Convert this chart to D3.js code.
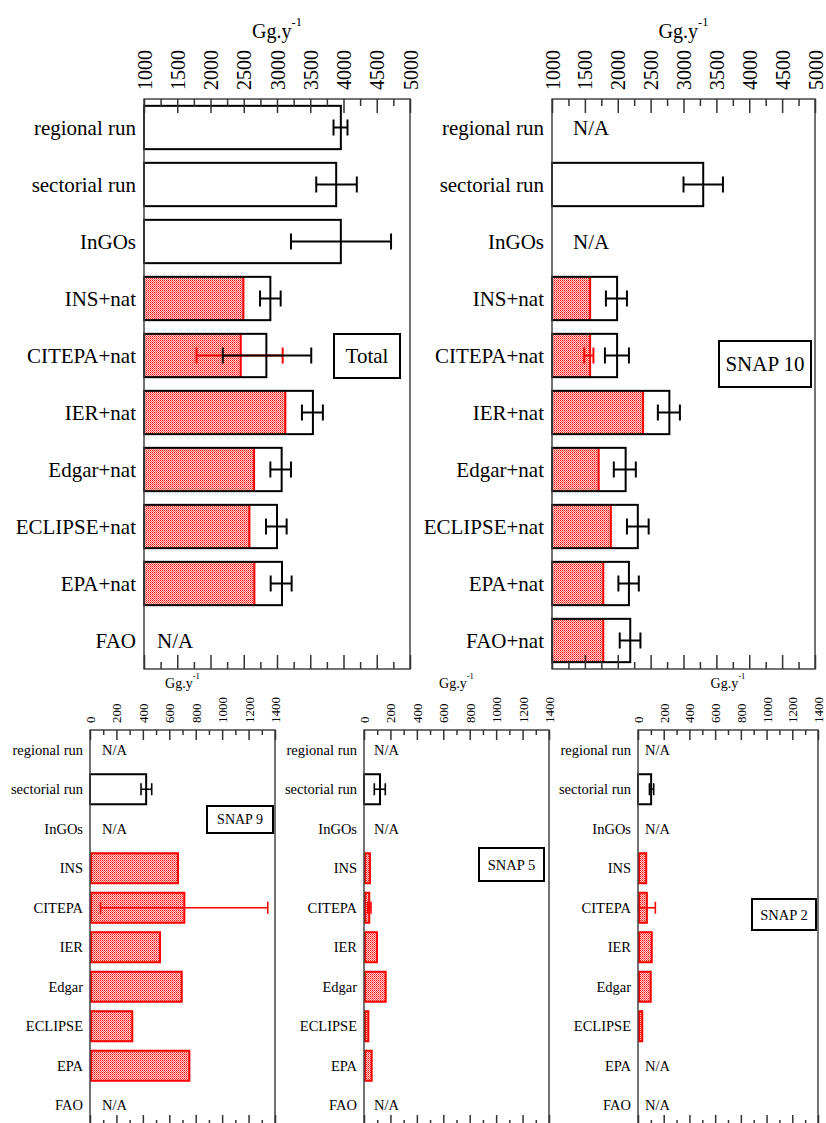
<!DOCTYPE html>
<html><head><meta charset="utf-8">
<script src="https://cdn.jsdelivr.net/npm/d3@7"></script>
<style>
body{margin:0;background:#fff}
svg{display:block}
text{font-family:"Liberation Serif","Times New Roman",serif;fill:#000}
</style>
</head><body>
<svg id="c" width="826" height="1123"></svg>
<script>
// ---------------- DATA ----------------
const catsTotal  = ["regional run","sectorial run","InGOs","INS+nat","CITEPA+nat","IER+nat","Edgar+nat","ECLIPSE+nat","EPA+nat","FAO"];
const catsSnap10 = ["regional run","sectorial run","InGOs","INS+nat","CITEPA+nat","IER+nat","Edgar+nat","ECLIPSE+nat","EPA+nat","FAO+nat"];
const catsSnap   = ["regional run","sectorial run","InGOs","INS","CITEPA","IER","Edgar","ECLIPSE","EPA","FAO"];

const ticksTop = [1000,1500,2000,2500,3000,3500,4000,4500,5000];
const ticksBottom = [0,200,400,600,800,1000,1200,1400];

// Total (top-left)
const totalBar     = [3960, 3890, 3960, 2900, 2840, 3540, 3070, 3000, 3075, null];
const totalAnthro  = [null, null, null, 2495, 2455, 3125, 2655, 2585, 2660, null];
const totalErrLo   = [3850, 3590, 3210, 2745, 2185, 3375, 2900, 2835, 2905, null];
const totalErrHi   = [4060, 4200, 4715, 3055, 3515, 3690, 3210, 3145, 3220, null];
const totalAnErrLo = [null, null, null, null, 1790, null, null, null, null, null];
const totalAnErrHi = [null, null, null, null, 3085, null, null, null, null, null];

// SNAP 10 (top-right)
const snap10Bar     = [null, 3300, null, 1990, 1990, 2785, 2120, 2305, 2170, 2190];
const snap10Anthro  = [null, null, null, 1580, 1580, 2385, 1710, 1895, 1780, 1780];
const snap10ErrLo   = [null, 3000, null, 1820, 1805, 2610, 1940, 2140, 2010, 2030];
const snap10ErrHi   = [null, 3600, null, 2140, 2170, 2945, 2275, 2470, 2320, 2345];
const snap10AnErrLo = [null, null, null, null, 1490, null, null, null, null, null];
const snap10AnErrHi = [null, null, null, null, 1630, null, null, null, null, null];

// SNAP 9 (bottom-left)
const snap9Bar     = [null, 425, null, null, null, null, null, null, null, null];
const snap9Inv     = [null, null, null, 666, 714, 530, 694, 320, 752, null];
const snap9ErrLo   = [null, 386, null, null, null, null, null, null, null, null];
const snap9ErrHi   = [null, 467, null, null, null, null, null, null, null, null];
const snap9InvErrLo = [null, null, null, null, 80, null, null, null, null, null];
const snap9InvErrHi = [null, null, null, null, 1345, null, null, null, null, null];

// SNAP 5 (bottom-middle)
const snap5Bar     = [null, 121, null, null, null, null, null, null, null, null];
const snap5Inv     = [null, null, null, 45, 40, 98, 164, 33, 58, null];
const snap5ErrLo   = [null, 78, null, null, null, null, null, null, null, null];
const snap5ErrHi   = [null, 161, null, null, null, null, null, null, null, null];
const snap5InvErrLo = [null, null, null, null, 28, null, null, null, null, null];
const snap5InvErrHi = [null, null, null, null, 53, null, null, null, null, null];

// SNAP 2 (bottom-right)
const snap2Bar     = [null, 102, null, null, null, null, null, null, null, null];
const snap2Inv     = [null, null, null, 64, 69, 107, 99, 33, null, null];
const snap2ErrLo   = [null, 89, null, null, null, null, null, null, null, null];
const snap2ErrHi   = [null, 122, null, null, null, null, null, null, null, null];
const snap2InvErrLo = [null, null, null, null, 5, null, null, null, null, null];
const snap2InvErrHi = [null, null, null, null, 135, null, null, null, null, null];

const unitMain = "Gg.y", unitSup = "-1";

// ---------------- DRAWING ----------------
const svg = d3.select("#c");
const defs = svg.append("defs");
const pat = defs.append("pattern").attr("id","chk").attr("width",2).attr("height",2)
  .attr("patternUnits","userSpaceOnUse");
pat.append("rect").attr("width",2).attr("height",2).attr("fill","#ffd0d0");
pat.append("rect").attr("width",1).attr("height",1).attr("fill","#ff0000");
pat.append("rect").attr("x",1).attr("y",1).attr("width",1).attr("height",1).attr("fill","#ff6060");

function panel(cfg){
  const g = svg.append("g");
  const x = d3.scaleLinear().domain(cfg.domain).range([cfg.left, cfg.right]);
  const y = d3.scaleBand().domain(cfg.cats).range([cfg.top, cfg.bottom]).paddingInner(0.24).paddingOuter(0.12);
  const bw = y.bandwidth();
  const base = cfg.domain[0];
  const rows = cfg.cats.map((c,i)=>({c, bar:cfg.bar[i], red:cfg.red[i], lo:cfg.lo[i], hi:cfg.hi[i], rlo:cfg.rlo[i], rhi:cfg.rhi[i]}));

  g.selectAll(".wb").data(rows.filter(d=>d.bar!=null)).join("rect")
    .attr("x", x(base)).attr("y", d=>y(d.c)).attr("width", d=>x(d.bar)-x(base)).attr("height", bw)
    .attr("fill","#fff");
  const redRows = rows.filter(d=>d.red!=null);
  if (cfg.stacked){
    g.selectAll(".rb").data(redRows).join("rect")
      .attr("x", x(base)).attr("y", d=>y(d.c)).attr("width", d=>x(d.red)-x(base)).attr("height", bw)
      .attr("fill","url(#chk)");
    g.selectAll(".rl").data(redRows).join("line")
      .attr("x1", d=>x(d.red)).attr("x2", d=>x(d.red)).attr("y1", d=>y(d.c)).attr("y2", d=>y(d.c)+bw)
      .attr("stroke","#ff0000").attr("stroke-width",2);
  } else {
    g.selectAll(".rb").data(redRows).join("rect")
      .attr("x", x(base)+1).attr("y", d=>y(d.c)).attr("width", d=>Math.max(0,x(d.red)-x(base)-1)).attr("height", bw)
      .attr("fill","url(#chk)").attr("stroke","#ff0000").attr("stroke-width",2);
  }
  g.selectAll(".ob").data(rows.filter(d=>d.bar!=null)).join("rect")
    .attr("x", x(base)).attr("y", d=>y(d.c)).attr("width", d=>x(d.bar)-x(base)).attr("height", bw)
    .attr("fill","none").attr("stroke","#000").attr("stroke-width",2);

  function err(data, lo, hi, color){
    const eg = g.append("g").attr("stroke",color).attr("stroke-width",cfg.errW).attr("fill","none");
    data.forEach(d=>{
      const cy = y(d.c)+bw/2;
      eg.append("line").attr("x1",x(d[lo])).attr("x2",x(d[hi])).attr("y1",cy).attr("y2",cy);
      eg.append("line").attr("x1",x(d[lo])).attr("x2",x(d[lo])).attr("y1",cy-cfg.cap).attr("y2",cy+cfg.cap);
      eg.append("line").attr("x1",x(d[hi])).attr("x2",x(d[hi])).attr("y1",cy-cfg.cap).attr("y2",cy+cfg.cap);
    });
  }
  err(rows.filter(d=>d.rlo!=null), "rlo","rhi","#ff0000");
  err(rows.filter(d=>d.lo!=null), "lo","hi","#000");

  g.selectAll(".na").data(rows.filter(d=>d.bar==null && d.red==null)).join("text")
    .attr("x", cfg.left + cfg.naDx).attr("y", d=>y(d.c)+bw/2).attr("dy","0.35em")
    .attr("font-size", cfg.labSize).text("N/A");

  g.append("rect").attr("x",cfg.left).attr("y",cfg.top).attr("width",cfg.right-cfg.left).attr("height",cfg.bottom-cfg.top)
    .attr("fill","none").attr("stroke","#444").attr("stroke-width",1.5);

  const minor = d3.range(cfg.domain[0], cfg.domain[1]+1, cfg.minorStep).filter(v=>!cfg.ticks.includes(v));
  g.append("g").attr("transform",`translate(0,${cfg.top})`).style("color","#333")
    .call(d3.axisTop(x).tickValues(minor).tickSize(-cfg.minorLen).tickFormat(""))
    .call(a=>a.select(".domain").remove());
  g.append("g").attr("transform",`translate(0,${cfg.bottom})`).style("color","#333")
    .call(d3.axisBottom(x).tickValues(minor).tickSize(-cfg.minorLen).tickFormat(""))
    .call(a=>a.select(".domain").remove());
  g.append("g").attr("transform",`translate(0,${cfg.bottom})`).style("color","#333")
    .call(d3.axisBottom(x).tickValues(cfg.ticks).tickSize(-cfg.majorLen).tickFormat(""))
    .call(a=>a.select(".domain").remove());
  g.append("g").attr("transform",`translate(0,${cfg.top})`).style("color","#333")
    .call(d3.axisTop(x).tickValues(cfg.ticks).tickSize(-cfg.majorLen).tickFormat(d3.format("d")))
    .call(a=>a.select(".domain").remove())
    .call(a=>a.selectAll("text")
      .attr("font-family",null).attr("font-size",cfg.tickSize).style("fill","#000")
      .attr("transform","rotate(-90)").attr("x",cfg.tickGap).attr("y",0).attr("dy","0.35em")
      .attr("text-anchor","start"));
  g.selectAll(".tick line").attr("stroke-width",1.5);

  g.selectAll(".cl").data(cfg.cats).join("text")
    .attr("x", cfg.left - cfg.labGap).attr("y", d=>y(d)+bw/2).attr("dy","0.35em")
    .attr("text-anchor","end").attr("font-size", cfg.labSize).text(d=>d);

  const t = svg.append("text").attr("x",(cfg.left+cfg.right)/2).attr("y",cfg.titleY)
    .attr("text-anchor","middle").attr("font-size",cfg.titleSize);
  t.append("tspan").text(unitMain);
  t.append("tspan").attr("font-size",cfg.titleSize*0.62).attr("dy",-cfg.titleSize*0.62).text(unitSup);

  const b = cfg.box;
  g.append("rect").attr("x",b.x).attr("y",b.y).attr("width",b.w).attr("height",b.h)
    .attr("fill","#fff").attr("stroke","#000").attr("stroke-width",2);
  g.append("text").attr("x",b.x+b.w/2).attr("y",b.y+b.h/2).attr("dy","0.35em")
    .attr("text-anchor","middle").attr("font-size",b.size).text(b.text);
}

const topCfg = {domain:[1000,5000], ticks:ticksTop, minorStep:250, top:99, bottom:669,
  majorLen:14, minorLen:7, tickSize:20, tickGap:9, labSize:21, labGap:8, cap:8, errW:2,
  titleY:38, titleSize:20, stacked:true};
const botCfg = {domain:[0,1400], ticks:ticksBottom, minorStep:100, top:730, bottom:1125,
  majorLen:10, minorLen:5, tickSize:13, tickGap:7, labSize:14.5, labGap:7, cap:6, errW:1.6,
  titleY:688, titleSize:14, stacked:false};

panel(Object.assign({}, topCfg, {left:144, right:410, cats:catsTotal, naDx:13,
  bar:totalBar, red:totalAnthro, lo:totalErrLo, hi:totalErrHi, rlo:totalAnErrLo, rhi:totalAnErrHi,
  box:{x:334,y:334,w:66,h:44,text:"Total",size:21}}));
panel(Object.assign({}, topCfg, {left:552, right:815, cats:catsSnap10, naDx:21,
  bar:snap10Bar, red:snap10Anthro, lo:snap10ErrLo, hi:snap10ErrHi, rlo:snap10AnErrLo, rhi:snap10AnErrHi,
  box:{x:719,y:341,w:92,h:46,text:"SNAP 10",size:21}}));
panel(Object.assign({}, botCfg, {left:90, right:275, cats:catsSnap, naDx:12,
  bar:snap9Bar, red:snap9Inv, lo:snap9ErrLo, hi:snap9ErrHi, rlo:snap9InvErrLo, rhi:snap9InvErrHi,
  box:{x:207,y:806,w:66,h:27,text:"SNAP 9",size:14}}));
panel(Object.assign({}, botCfg, {left:364, right:549, cats:catsSnap, naDx:10,
  bar:snap5Bar, red:snap5Inv, lo:snap5ErrLo, hi:snap5ErrHi, rlo:snap5InvErrLo, rhi:snap5InvErrHi,
  box:{x:479,y:848,w:65,h:33,text:"SNAP 5",size:14.5}}));
panel(Object.assign({}, botCfg, {left:638, right:818, cats:catsSnap, naDx:7,
  bar:snap2Bar, red:snap2Inv, lo:snap2ErrLo, hi:snap2ErrHi, rlo:snap2InvErrLo, rhi:snap2InvErrHi,
  box:{x:752,y:899,w:64,h:31,text:"SNAP 2",size:14.5}}));
</script>
</body></html>
